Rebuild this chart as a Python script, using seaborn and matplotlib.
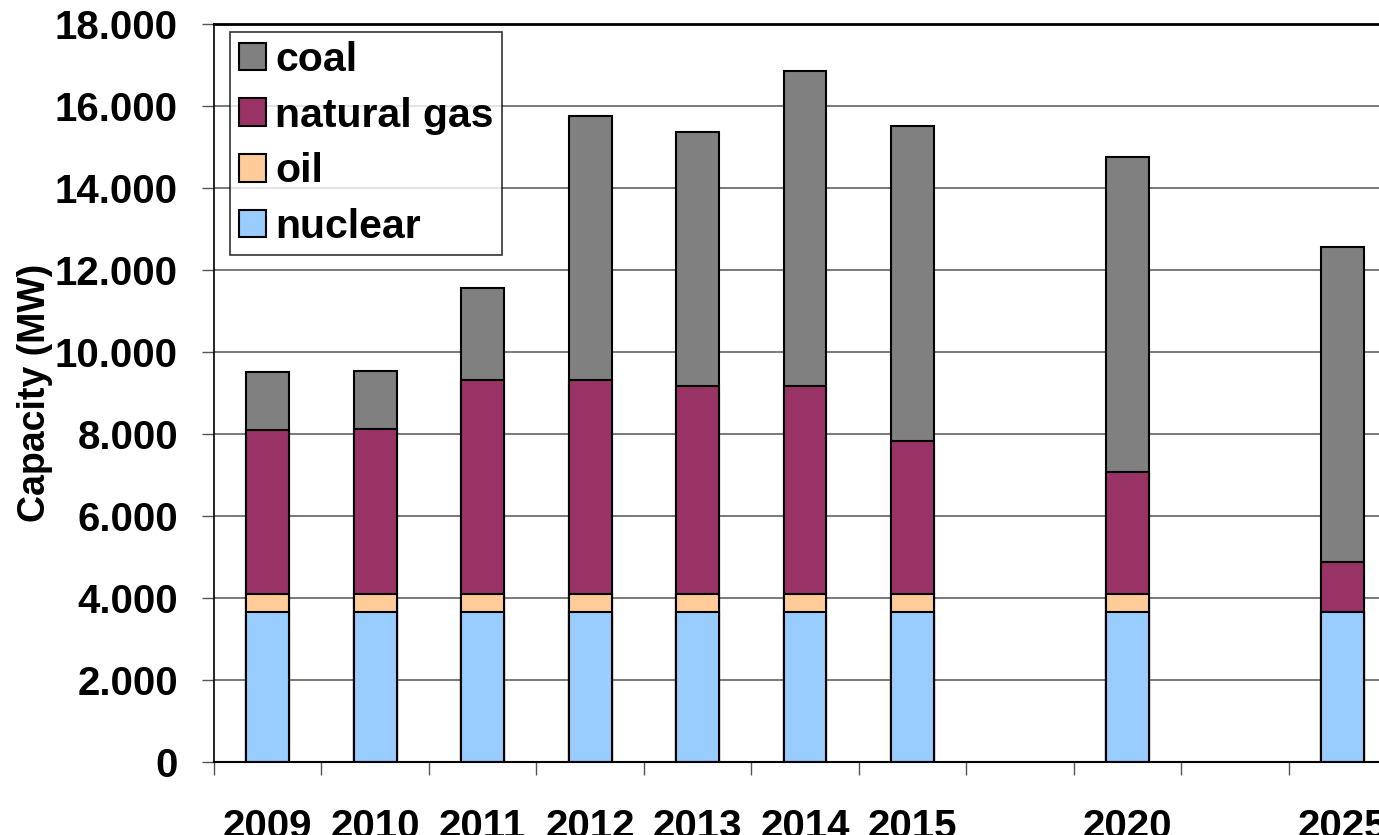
import numpy as np
import matplotlib
matplotlib.use("Agg")
import matplotlib.pyplot as plt
import seaborn as sns
from matplotlib.patches import Patch
from matplotlib.ticker import FuncFormatter

# data (MW)
years = ["2009", "2010", "2011", "2012", "2013", "2014", "2015", "2020", "2025"]
slots = ["2009", "2010", "2011", "2012", "2013", "2014", "2015", "gap1", "2020", "gap2", "2025"]
slot_labels = ["2009", "2010", "2011", "2012", "2013", "2014", "2015", "", "2020", "", "2025"]
nuclear = [3650, 3650, 3650, 3650, 3650, 3650, 3650, 3650, 3650]
oil = [450, 450, 450, 450, 450, 450, 450, 450, 0]
natural_gas = [4000, 4020, 5220, 5220, 5060, 5060, 3730, 2980, 1220]
coal = [1420, 1425, 2240, 6440, 6210, 7690, 7680, 7680, 7700]

series = ["coal", "natural gas", "oil", "nuclear"]
colors = {"coal": "#808080", "natural gas": "#993366", "oil": "#FFCC99", "nuclear": "#99CCFF"}

sns.set_style("white")
plt.rcParams["font.family"] = ["Liberation Sans", "DejaVu Sans"]
plt.rcParams["font.weight"] = "bold"
plt.rcParams["text.color"] = "black"
plt.rcParams["axes.labelcolor"] = "black"

fig = plt.figure(figsize=(13.79, 8.35), dpi=100)
ax = fig.add_axes([214 / 1379, 1 - 762 / 835, 1182 / 1379, 738 / 835])

# stacked by drawing cumulative totals from the top layer down
layers = {"nuclear": np.array(nuclear), "oil": np.array(oil),
          "natural gas": np.array(natural_gas), "coal": np.array(coal)}
cum = {}
running = np.zeros(len(years))
for name in ["nuclear", "oil", "natural gas", "coal"]:
    running = running + layers[name]
    cum[name] = running.copy()

for name in series:
    sns.barplot(x=years, y=cum[name], order=slots, color=colors[name], saturation=1,
                width=0.4, edgecolor="black", linewidth=1.5, ax=ax)

ax.set_ylim(0, 18000)
ax.set_yticks(np.arange(0, 18001, 2000))
ax.yaxis.set_major_formatter(FuncFormatter(lambda v, p: f"{int(v):,}".replace(",", ".")))
ax.yaxis.grid(True, color="#555555", linewidth=1.1)
ax.set_axisbelow(True)
ax.tick_params(axis="y", direction="out", length=9, width=1, color="#555555",
               labelcolor="black", labelsize=29, pad=17, left=True)

ax.set_xlim(-0.5, 10.5)
ax.set_xticks(range(len(slots)))
ax.set_xticklabels(slot_labels)
ax.set_xticks(np.arange(-0.5, 10.6, 1), minor=True)
ax.tick_params(axis="x", which="major", length=0, labelsize=29, labelcolor="black", pad=33)
ax.tick_params(axis="x", which="minor", direction="out", length=9, width=1, color="#555555", bottom=True)
for lab in ax.get_xticklabels() + ax.get_yticklabels():
    lab.set_fontweight("bold")

for side in ["left", "bottom", "top"]:
    ax.spines[side].set_visible(True)
    ax.spines[side].set_color("black")
ax.spines["left"].set_linewidth(1.2)
ax.spines["bottom"].set_linewidth(1.5)
ax.spines["top"].set_linewidth(2)
ax.spines["right"].set_visible(False)

ax.set_xlabel("")
ax.set_ylabel("")
fig.text(35 / 1379, 1 - 393 / 835, "Capacity (MW)", rotation=90, ha="center", va="center",
         fontsize=27, fontweight="bold", color="black")

handles = [Patch(facecolor=colors[s], edgecolor="black", linewidth=1.5, label=s) for s in series]
leg = ax.legend(handles=handles, loc="upper left", bbox_to_anchor=(16 / 1182, 1 - 8 / 738),
                borderaxespad=0, fancybox=False, frameon=True, edgecolor="black",
                prop={"size": 29.5, "weight": "bold"}, handlelength=0.66, handleheight=0.66,
                handletextpad=0.22, labelspacing=0.43, borderpad=0.22)
leg.get_frame().set_linewidth(1.2)
for t in leg.get_texts():
    t.set_color("black")

fig.savefig("out.png", dpi=100)
